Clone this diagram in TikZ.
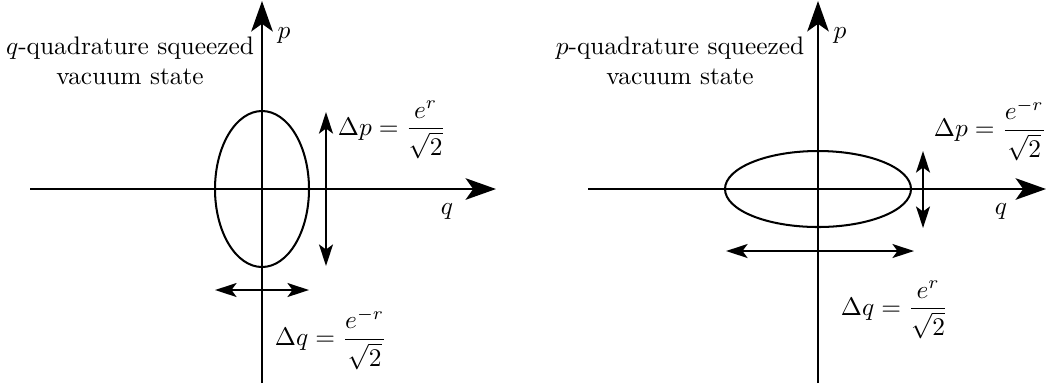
\documentclass[tikz,border=0pt]{standalone}
\usepackage{amsmath, amssymb}
\usetikzlibrary{positioning, arrows.meta}

\begin{document}
\begin{tikzpicture}[x=0.01386cm, y=-0.01386cm,
    axis/.style={-{Stealth[length=12pt, width=8.5pt, inset=3pt]}, thick},
    spread/.style={{Stealth[length=8.5pt, width=5.5pt, inset=2pt]}-{Stealth[length=8.5pt, width=5.5pt, inset=2pt]}, thick}]
    \useasboundingbox (0,0) rectangle (1046,389);
    % left: q-quadrature squeezed
    \coordinate (qminL) at (30,189);
    \coordinate (qmaxL) at (496,189);
    \coordinate (pminL) at (262,383);
    \coordinate (pmaxL) at (262,1);
    \draw[axis] (qminL) -- (qmaxL);
    \draw[axis] (pminL) -- (pmaxL);
    \node (qlabL) at (447,211) {$q$};
    \node (plabL) at (284,35) {$p$};
    \draw[thick] (262,189) ellipse [x radius=47, y radius=78];
    % spread in p
    \coordinate (dpaL) at (326,112);
    \coordinate (dpbL) at (326,266);
    \draw[spread] (dpbL) -- (dpaL);
    \node[anchor=west] (dplabL) at (329,130) {$\Delta p = \dfrac{e^{r}}{\sqrt{2}}$};
    % spread in q
    \coordinate (dqaL) at (215,290);
    \coordinate (dqbL) at (309,290);
    \draw[spread] (dqaL) -- (dqbL);
    \node[anchor=west] (dqlabL) at (266,339) {$\Delta q = \dfrac{e^{-r}}{\sqrt{2}}$};
    \node[align=center] (titleL) at (130,61) {$q$-quadrature squeezed\\vacuum state};
    % right: p-quadrature squeezed
    \coordinate (qminR) at (588,189);
    \coordinate (qmaxR) at (1046,189);
    \coordinate (pminR) at (818,383);
    \coordinate (pmaxR) at (818,1);
    \draw[axis] (qminR) -- (qmaxR);
    \draw[axis] (pminR) -- (pmaxR);
    \node (qlabR) at (1001,211) {$q$};
    \node (plabR) at (840,35) {$p$};
    \draw[thick] (818,189) ellipse [x radius=93, y radius=38];
    % spread in p
    \coordinate (dpaR) at (923,151);
    \coordinate (dpbR) at (923,228);
    \draw[spread] (dpbR) -- (dpaR);
    \node[anchor=west] (dplabR) at (925,130) {$\Delta p = \dfrac{e^{-r}}{\sqrt{2}}$};
    % spread in q
    \coordinate (dqaR) at (726,251);
    \coordinate (dqbR) at (914,251);
    \draw[spread] (dqaR) -- (dqbR);
    \node[anchor=west] (dqlabR) at (832,310) {$\Delta q = \dfrac{e^{r}}{\sqrt{2}}$};
    \node[align=center] (titleR) at (680,61) {$p$-quadrature squeezed\\vacuum state};
\end{tikzpicture}
\end{document}
